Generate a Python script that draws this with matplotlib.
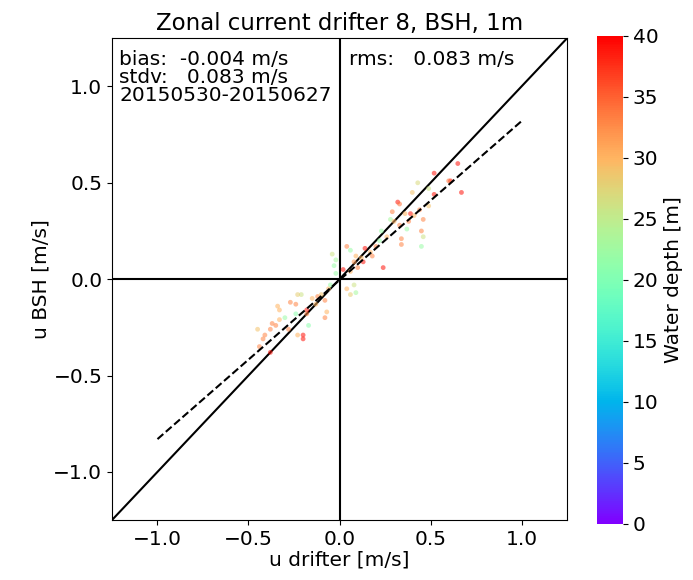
import numpy as np
import matplotlib
matplotlib.use("Agg")
import matplotlib.pyplot as plt

# drifter vs model zonal velocity (m/s)
u_drifter = [0.65, 0.52, 0.61, 0.67, 0.52, 0.32, 0.39, 0.14, 0.13, 0.24, 0.02,
             -0.18, -0.20, -0.20, -0.38,
             0.43, 0.49, 0.40, 0.60, 0.33, 0.29, 0.44, 0.49, 0.46, 0.36, 0.28,
             0.33, 0.37, 0.45, 0.46, 0.45, 0.34, 0.34, 0.26, 0.23, 0.20, 0.17,
             0.04, 0.06, 0.09, 0.08, 0.06, -0.03, -0.02,
             0.08, 0.04, -0.06, -0.21, -0.23, -0.27, -0.12, -0.08, -0.34, -0.33,
             -0.24, -0.18, -0.13, -0.17, -0.07, -0.08, -0.35, -0.38, -0.33,
             -0.41, -0.42, -0.44, -0.45, -0.28, -0.24, -0.30, -0.23,
             0.30, 0.22, 0.12, 0.10, 0.18, 0.06, 0.09, -0.37, -0.15, -0.10,
             -0.05, 0.38, 0.41, -0.02, -0.04]
u_bsh = [0.60, 0.55, 0.51, 0.45, 0.44, 0.40, 0.34, 0.16, 0.09, 0.06, 0.05,
         -0.16, -0.29, -0.31, -0.38,
         0.50, 0.47, 0.45, 0.51, 0.39, 0.35, 0.36, 0.38, 0.31, 0.34, 0.31,
         0.28, 0.26, 0.25, 0.22, 0.17, 0.21, 0.18, 0.22, 0.25, 0.17, 0.14,
         0.17, 0.15, 0.12, 0.09, 0.04, 0.07, 0.03,
         -0.03, -0.05, -0.05, -0.08, -0.08, -0.12, -0.09, -0.11, -0.14, -0.16,
         -0.13, -0.18, -0.13, -0.24, -0.17, -0.20, -0.24, -0.26, -0.21,
         -0.29, -0.31, -0.35, -0.26, -0.26, -0.18, -0.20, -0.29,
         0.30, 0.20, 0.11, 0.06, 0.12, -0.08, -0.07, -0.23, -0.10, -0.08,
         -0.03, 0.30, 0.33, 0.10, 0.13]
depth = [39, 39, 39, 39, 39, 39, 39, 39, 39, 39, 39,
         39, 39, 39, 39,
         27, 26, 29, 34, 34, 33, 33, 29, 33, 30, 23,
         33, 22, 33, 26, 22, 33, 33, 30, 22, 33, 30,
         33, 22, 30, 32, 30, 22, 22,
         26, 30, 30, 26, 28, 33, 33, 33, 30, 30,
         33, 33, 30, 21, 30, 33, 33, 33, 30,
         33, 33, 33, 29, 33, 21, 22, 30,
         30, 22, 30, 33, 33, 28, 23, 33, 30, 29,
         22, 33, 30, 23, 26]

# regression line end points
fit_x = [-1.0, 1.0]
fit_y = [-0.83, 0.82]

fig = plt.figure(figsize=(6.93, 5.80), dpi=100)
ax = fig.add_axes([0.1616, 0.1034, 0.6566, 0.8306])
cax = fig.add_axes([0.8615, 0.0966, 0.0375, 0.8414])

sc = ax.scatter(u_drifter, u_bsh, c=depth, cmap='rainbow', vmin=0, vmax=40,
                s=12, alpha=0.55, edgecolors='none', zorder=3)
ax.plot([-1.25, 1.25], [-1.25, 1.25], color='black', lw=1.5, zorder=2)
ax.plot(fit_x, fit_y, color='black', lw=1.5, linestyle='--', zorder=4)
ax.axhline(0, color='black', lw=1.5, zorder=2)
ax.axvline(0, color='black', lw=1.5, zorder=2)

ax.set_xlim(-1.25, 1.25)
ax.set_ylim(-1.25, 1.25)
ax.set_xticks([-1.0, -0.5, 0.0, 0.5, 1.0])
ax.set_yticks([-1.0, -0.5, 0.0, 0.5, 1.0])
ax.tick_params(labelsize=14.5)
ax.set_xlabel('u drifter [m/s]', fontsize=14.5, labelpad=1)
ax.set_ylabel('u BSH [m/s]', fontsize=14.5, labelpad=2)
ax.set_title('Zonal current drifter 8, BSH, 1m', fontsize=16.5)

ax.text(-1.21, 1.19, 'bias:  -0.004 m/s\nstdv:   0.083 m/s\n20150530-20150627',
        fontsize=14.5, va='top', ha='left', linespacing=0.93)
ax.text(0.05, 1.19, 'rms:   0.083 m/s', fontsize=14.5, va='top', ha='left')

cb = fig.colorbar(sc, cax=cax)
cb.solids.set_alpha(1)
cb.set_ticks(range(0, 41, 5))
cb.ax.tick_params(labelsize=14.5)
cb.set_label('Water depth [m]', fontsize=14.5)
cb.outline.set_visible(False)

fig.savefig('out.png', dpi=100)
